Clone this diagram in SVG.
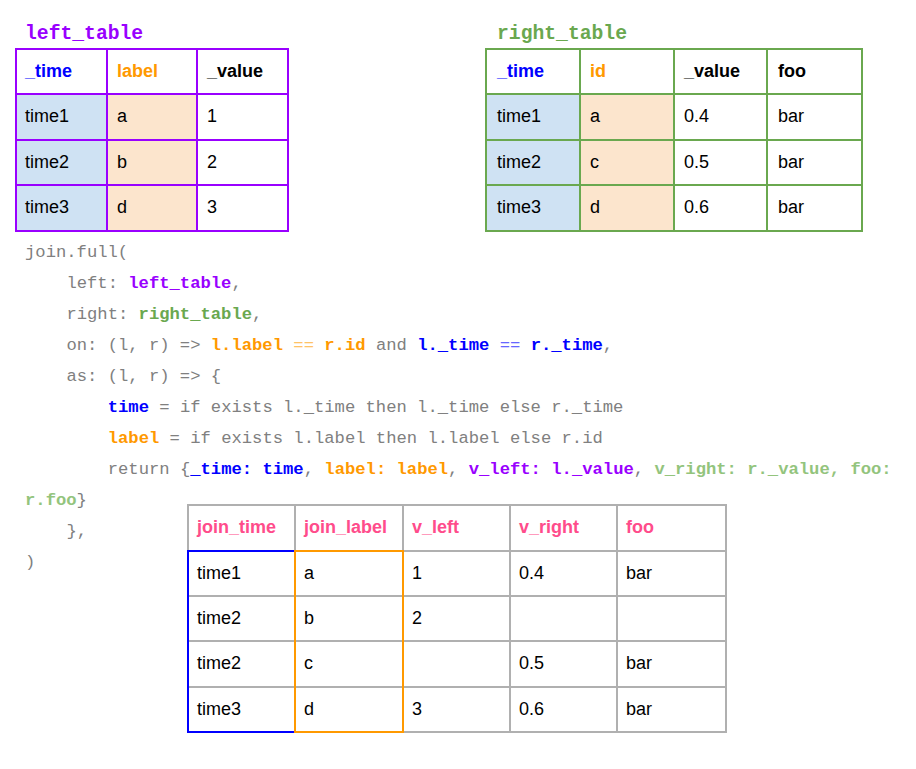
<svg xmlns="http://www.w3.org/2000/svg" width="916" height="769" viewBox="0 0 916 769">
<style>
.cell{font-family:"Liberation Sans",Arial,sans-serif;font-size:18px;fill:#000}
.hdr{font-weight:bold}
.title{font-family:"Liberation Mono","Courier New",monospace;font-size:19.7px;font-weight:bold}
.code{font-family:"Liberation Mono","Courier New",monospace;font-size:17.2px;fill:#808080;white-space:pre}
.b{font-weight:bold}
.pu{fill:#9900ff}.gr{fill:#6aa84f}.lg{fill:#93c47d}.or{fill:#ff9900}.bl{fill:#0000ff}.pk{fill:#ff4c8b}
.or2{fill:#ffc266}.bl2{fill:#6666ff}
.lt{fill:none;stroke:#9900ff;stroke-width:2}
.rt{fill:none;stroke:#6aa84f;stroke-width:2}
.jt{fill:none;stroke:#b0b0b0;stroke-width:2}
</style>
<rect width="916" height="769" fill="#fff"/>

<g id="left_table">
<text class="title pu" x="25" y="39">left_table</text>
<rect x="16" y="94" width="91" height="137" fill="#cfe2f3"/>
<rect x="107" y="94" width="90" height="137" fill="#fce5cd"/>
<path class="lt" d="M16 49H288V231H16Z M16 94H288 M16 140H288 M16 185H288 M107 49V231 M197 49V231"/>
<text class="cell hdr bl" x="25" y="77">_time</text>
<text class="cell hdr or" x="117" y="77">label</text>
<text class="cell hdr" x="207" y="77">_value</text>
<text class="cell" x="25" y="122">time1</text>
<text class="cell" x="117" y="122">a</text>
<text class="cell" x="207" y="122">1</text>
<text class="cell" x="25" y="167.5">time2</text>
<text class="cell" x="117" y="167.5">b</text>
<text class="cell" x="207" y="167.5">2</text>
<text class="cell" x="25" y="213">time3</text>
<text class="cell" x="117" y="213">d</text>
<text class="cell" x="207" y="213">3</text>
</g>

<g id="right_table">
<text class="title gr" x="497" y="39">right_table</text>
<rect x="486" y="94" width="94" height="137" fill="#cfe2f3"/>
<rect x="580" y="94" width="94" height="137" fill="#fce5cd"/>
<path class="rt" d="M486 49H862V231H486Z M486 94H862 M486 140H862 M486 185H862 M580 49V231 M674 49V231 M767 49V231"/>
<text class="cell hdr bl" x="497" y="77">_time</text>
<text class="cell hdr or" x="590" y="77">id</text>
<text class="cell hdr" x="684" y="77">_value</text>
<text class="cell hdr" x="778" y="77">foo</text>
<text class="cell" x="497" y="122">time1</text>
<text class="cell" x="590" y="122">a</text>
<text class="cell" x="684" y="122">0.4</text>
<text class="cell" x="778" y="122">bar</text>
<text class="cell" x="497" y="167.5">time2</text>
<text class="cell" x="590" y="167.5">c</text>
<text class="cell" x="684" y="167.5">0.5</text>
<text class="cell" x="778" y="167.5">bar</text>
<text class="cell" x="497" y="213">time3</text>
<text class="cell" x="590" y="213">d</text>
<text class="cell" x="684" y="213">0.6</text>
<text class="cell" x="778" y="213">bar</text>
</g>

<g id="code">
<text class="code" x="25" y="257" xml:space="preserve">join.full(</text>
<text class="code" x="66.4" y="288" xml:space="preserve">left: <tspan class="b pu">left_table</tspan>,</text>
<text class="code" x="66.4" y="319" xml:space="preserve">right: <tspan class="b gr">right_table</tspan>,</text>
<text class="code" x="66.4" y="350" xml:space="preserve">on: (l, r) =&gt; <tspan class="b or">l.label</tspan> <tspan class="or2">==</tspan> <tspan class="b or">r.id</tspan> and <tspan class="b bl">l._time</tspan> <tspan class="bl2">==</tspan> <tspan class="b bl">r._time</tspan>,</text>
<text class="code" x="66.4" y="381" xml:space="preserve">as: (l, r) =&gt; {</text>
<text class="code" x="107.7" y="412" xml:space="preserve"><tspan class="b bl">time</tspan> = if exists l._time then l._time else r._time</text>
<text class="code" x="107.7" y="443" xml:space="preserve"><tspan class="b or">label</tspan> = if exists l.label then l.label else r.id</text>
<text class="code" x="107.7" y="474" xml:space="preserve">return {<tspan class="b bl">_time: time</tspan>, <tspan class="b or">label: label</tspan>, <tspan class="b pu">v_left: l._value</tspan>, <tspan class="b lg">v_right: r._value, foo:</tspan></text>
<text class="code" x="25" y="505" xml:space="preserve"><tspan class="b lg">r.foo</tspan>}</text>
<text class="code" x="66.4" y="536" xml:space="preserve">},</text>
<text class="code" x="25" y="567" xml:space="preserve">)</text>
</g>

<g id="join_table">
<path class="jt" d="M188 505H726V732H188Z M188 551H726 M188 596H726 M188 641H726 M188 687H726 M295 505V732 M403 505V732 M510 505V732 M617 505V732"/>
<rect x="188" y="551" width="107" height="181" fill="none" stroke="#0000ff" stroke-width="2"/>
<rect x="295" y="551" width="108" height="181" fill="none" stroke="#ff9900" stroke-width="2"/>
<text class="cell hdr pk" x="197" y="533">join_time</text>
<text class="cell hdr pk" x="304" y="533">join_label</text>
<text class="cell hdr pk" x="412" y="533">v_left</text>
<text class="cell hdr pk" x="519" y="533">v_right</text>
<text class="cell hdr pk" x="626" y="533">foo</text>
<text class="cell" x="197" y="578.5">time1</text>
<text class="cell" x="304" y="578.5">a</text>
<text class="cell" x="412" y="578.5">1</text>
<text class="cell" x="519" y="578.5">0.4</text>
<text class="cell" x="626" y="578.5">bar</text>
<text class="cell" x="197" y="623.5">time2</text>
<text class="cell" x="304" y="623.5">b</text>
<text class="cell" x="412" y="623.5">2</text>
<text class="cell" x="197" y="669">time2</text>
<text class="cell" x="304" y="669">c</text>
<text class="cell" x="519" y="669">0.5</text>
<text class="cell" x="626" y="669">bar</text>
<text class="cell" x="197" y="714.5">time3</text>
<text class="cell" x="304" y="714.5">d</text>
<text class="cell" x="412" y="714.5">3</text>
<text class="cell" x="519" y="714.5">0.6</text>
<text class="cell" x="626" y="714.5">bar</text>
</g>
</svg>
